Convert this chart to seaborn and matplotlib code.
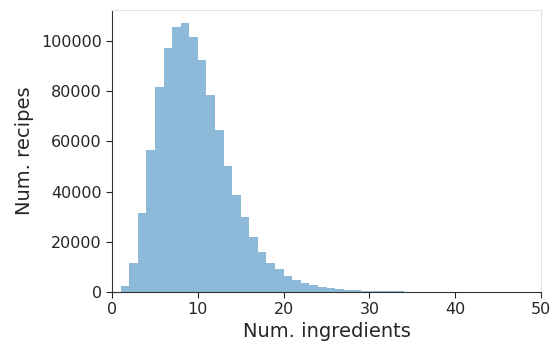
import seaborn as sns
import matplotlib.pyplot as plt
import pandas as pd
import numpy as np

sns.set_style("ticks")

# number of ingredients per recipe (bin left edge) and counts
n_ingredients = list(range(1, 34))
num_recipes = [2300, 11600, 31600, 56400, 81700, 97100, 105300, 106900, 101300,
               92400, 78500, 64500, 50200, 38600, 30000, 21900, 16100, 11400,
               9000, 6400, 4700, 3600, 2700, 2000, 1500, 1200, 900, 700, 550,
               450, 350, 300, 250]

df = pd.DataFrame({"n_ingredients": n_ingredients, "num_recipes": num_recipes})

fig = plt.figure(figsize=(5.52, 3.44), dpi=100)
ax = fig.add_axes([0.203, 0.151, 0.777, 0.820])
sns.histplot(data=df, x="n_ingredients", weights="num_recipes", binwidth=1, binrange=(0, 50),
             color="#1f77b4", alpha=0.5, linewidth=0, ax=ax)

ax.set_xlim(0, 50)
ax.set_xlabel("Num. ingredients", fontsize=14, color="#262626", labelpad=3)
ax.set_ylabel("Num. recipes", fontsize=14, color="#262626", labelpad=5)
ax.tick_params(labelsize=11.5, colors="#262626", length=4)
for s in ["left", "bottom"]:
    ax.spines[s].set_color("#333333")
for s in ["top", "right"]:
    ax.spines[s].set_color("#e3e3e3")

fig.savefig("out.png", dpi=100)
